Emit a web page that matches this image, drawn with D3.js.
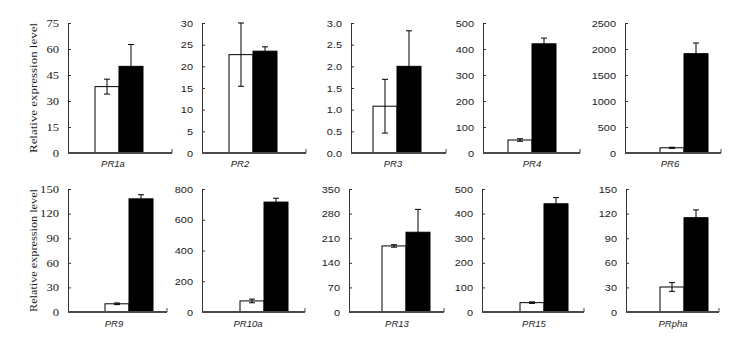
<!DOCTYPE html>
<html>
<head>
<meta charset="utf-8">
<script src="https://cdn.jsdelivr.net/npm/d3@7"></script>
<style>
  html, body { margin: 0; padding: 0; background: #fff; }
  svg { display: block; }
</style>
</head>
<body>
<svg id="chart" width="753" height="338"></svg>
<script>
// ---------------- data ----------------
const genes      = ["PR1a", "PR2", "PR3", "PR4", "PR6", "PR9", "PR10a", "PR13", "PR15", "PRpha"];
const ctrlMeans  = [38.3, 22.7, 1.08, 50, 100, 10, 72, 188, 38, 30.5];
const ctrlErrors = [4.3, 7.3, 0.62, 5, 10, 1, 12, 3.5, 3, 5.3];
const trtMeans   = [50, 23.5, 2.0, 420, 1910, 138, 715, 227, 440, 115];
const trtErrors  = [12.6, 1.0, 0.82, 22, 205, 5, 25, 65, 25, 9.5];
const tickValues = [
  [0, 15, 30, 45, 60, 75],
  [0, 5, 10, 15, 20, 25, 30],
  [0, 0.5, 1.0, 1.5, 2.0, 2.5, 3.0],
  [0, 100, 200, 300, 400, 500],
  [0, 500, 1000, 1500, 2000, 2500],
  [0, 30, 60, 90, 120, 150],
  [0, 200, 400, 600, 800],
  [0, 70, 140, 210, 280, 350],
  [0, 100, 200, 300, 400, 500],
  [0, 30, 60, 90, 120, 150]
];
const tickLabels = [
  ["0", "15", "30", "45", "60", "75"],
  ["0", "5", "10", "15", "20", "25", "30"],
  ["0.0", "0.5", "1.0", "1.5", "2.0", "2.5", "3.0"],
  ["0", "100", "200", "300", "400", "500"],
  ["0", "500", "1000", "1500", "2000", "2500"],
  ["0", "30", "60", "90", "120", "150"],
  ["0", "200", "400", "600", "800"],
  ["0", "70", "140", "210", "280", "350"],
  ["0", "100", "200", "300", "400", "500"],
  ["0", "30", "60", "90", "120", "150"]
];
const series = ["control", "treated"];
const yTitle = "Relative expression level";

// ---------------- layout (positions only) ----------------
const rows = [{top: 23, bottom: 153, label: 167}, {top: 189, bottom: 312, label: 327}];
const panelLayout = [
  {row: 0, x0: 68,  x1: 172, bar: 119, lab: 113, serif: true},
  {row: 0, x0: 202, x1: 306, bar: 253, lab: 240},
  {row: 0, x0: 351, x1: 446, bar: 397, lab: 393},
  {row: 0, x0: 483, x1: 580, bar: 532, lab: 532},
  {row: 0, x0: 625, x1: 721, bar: 684, lab: 670},
  {row: 1, x0: 68,  x1: 167, bar: 129, lab: 114, serif: true},
  {row: 1, x0: 202, x1: 305, bar: 264, lab: 248},
  {row: 1, x0: 349, x1: 444, bar: 406, lab: 397},
  {row: 1, x0: 482, x1: 584, bar: 544, lab: 534},
  {row: 1, x0: 626, x1: 719, bar: 684, lab: 673}
];
const barHalf = 24;
const capHalf = 3;

const svg = d3.select("#chart");
svg.append("rect").attr("width", 753).attr("height", 338).attr("fill", "#fff");

function stretch(sel, factor) {
  sel.each(function () {
    const len = this.getComputedTextLength();
    d3.select(this).attr("textLength", len * factor).attr("lengthAdjust", "spacingAndGlyphs");
  });
}

genes.forEach((gene, i) => {
  const L = panelLayout[i];
  const R = rows[L.row];
  const ticks = tickValues[i];
  const y = d3.scaleLinear().domain([0, ticks[ticks.length - 1]]).range([R.bottom, R.top]);
  const x = d3.scaleBand().domain(series).range([L.bar - barHalf, L.bar + barHalf]).padding(0);
  const g = svg.append("g");

  // y axis
  const axis = d3.axisLeft(y)
    .tickValues(ticks)
    .tickFormat((d, k) => tickLabels[i][k])
    .tickSizeInner(-3).tickSizeOuter(0).tickPadding(9);
  const ag = g.append("g").attr("transform", `translate(${L.x0},0)`).call(axis);
  ag.select(".domain").attr("stroke", "#333");
  ag.selectAll(".tick line").attr("stroke", "#333");
  const tt = ag.selectAll(".tick text")
    .attr("fill", "#1a1a1a")
    .attr("font-family", L.serif ? "'Liberation Serif', 'Times New Roman', serif" : "'Liberation Sans', Arial, sans-serif")
    .attr("font-size", L.serif ? 10.5 : 9.5);
  stretch(tt, L.serif ? 1.2 : 1.15);

  // bars
  const vals = [
    {s: "control", m: ctrlMeans[i], e: ctrlErrors[i]},
    {s: "treated", m: trtMeans[i], e: trtErrors[i]}
  ];
  g.selectAll("rect.bar").data(vals).join("rect")
    .attr("class", "bar")
    .attr("x", d => x(d.s))
    .attr("y", d => y(d.m))
    .attr("width", x.bandwidth())
    .attr("height", d => y(0) - y(d.m))
    .attr("fill", d => d.s === "control" ? "#fff" : "#000")
    .attr("stroke", "#000")
    .attr("stroke-width", 1);

  // error bars
  vals.forEach(d => {
    const cx = x(d.s) + x.bandwidth() / 2;
    const lo = d.s === "control" ? d.m - d.e : d.m;
    const hi = d.m + d.e;
    g.append("line").attr("x1", cx).attr("x2", cx).attr("y1", y(lo)).attr("y2", y(hi))
      .attr("stroke", "#000").attr("stroke-width", 1);
    g.append("line").attr("x1", cx - capHalf).attr("x2", cx + capHalf).attr("y1", y(hi)).attr("y2", y(hi))
      .attr("stroke", "#000").attr("stroke-width", 1);
    if (d.s === "control") {
      g.append("line").attr("x1", cx - capHalf).attr("x2", cx + capHalf).attr("y1", y(lo)).attr("y2", y(lo))
        .attr("stroke", "#000").attr("stroke-width", 1);
    }
  });

  // x axis
  g.append("line").attr("x1", L.x0).attr("x2", L.x1).attr("y1", y(0)).attr("y2", y(0))
    .attr("stroke", "#4a4a4a").attr("stroke-width", 2);
  g.append("line").attr("x1", L.x1).attr("x2", L.x1).attr("y1", y(0)).attr("y2", y(0) - 4)
    .attr("stroke", "#4a4a4a").attr("stroke-width", 1);

  // category label
  g.append("text")
    .attr("x", L.lab).attr("y", R.label)
    .attr("text-anchor", "middle")
    .attr("font-family", "'Liberation Sans', Arial, sans-serif")
    .attr("font-style", "italic")
    .attr("font-size", 9.5)
    .attr("fill", "#1a1a1a")
    .text(gene);
});

// y titles
rows.forEach(R => {
  const cy = (R.top + R.bottom) / 2;
  svg.append("text")
    .attr("transform", `translate(37,${cy}) rotate(-90)`)
    .attr("text-anchor", "middle")
    .attr("font-family", "'Liberation Serif', 'Times New Roman', serif")
    .attr("font-size", 10)
    .attr("fill", "#1a1a1a")
    .attr("textLength", R.bottom - R.top)
    .attr("lengthAdjust", "spacingAndGlyphs")
    .text(yTitle);
});
</script>
</body>
</html>
